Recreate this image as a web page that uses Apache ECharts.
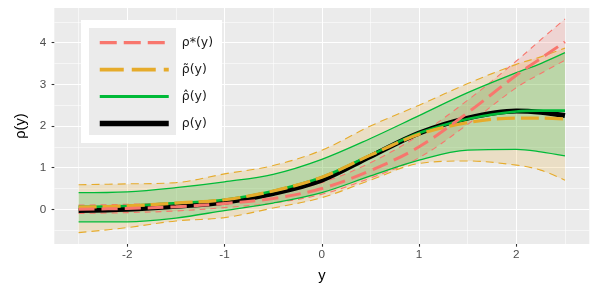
<!DOCTYPE html>
<html><head><meta charset="utf-8">
<script src="https://cdn.jsdelivr.net/npm/echarts@6/dist/echarts.min.js"></script>
<style>html,body{margin:0;padding:0;background:#fff}#c{width:598px;height:299px}</style>
</head><body><div id="c"></div>
<script>
// ---- data ----
const xs        = [-2.5, -2, -1.5, -1, -0.5, 0, 0.5, 1, 1.5, 2, 2.25, 2.5];
const rho       = [-0.03, 0.00, 0.07, 0.17, 0.38, 0.70, 1.27, 1.83, 2.19, 2.36, 2.33, 2.25];
const rhoHat    = [0.06, 0.08, 0.15, 0.23, 0.44, 0.77, 1.30, 1.83, 2.17, 2.35, 2.37, 2.37];
const rhoTilde  = [0.05, 0.08, 0.15, 0.23, 0.44, 0.77, 1.30, 1.80, 2.08, 2.19, 2.19, 2.17];
const rhoStar   = [0.00, 0.02, 0.06, 0.14, 0.26, 0.50, 0.93, 1.50, 2.32, 3.22, 3.62, 4.02];
const starLo    = [-0.10, -0.08, -0.04, 0.04, 0.15, 0.36, 0.75, 1.24, 2.04, 2.92, 3.26, 3.58];
const starHi    = [0.10, 0.12, 0.16, 0.24, 0.38, 0.64, 1.12, 1.78, 2.62, 3.56, 4.07, 4.57];
const tildeLo   = [-0.56, -0.44, -0.28, -0.20, 0.03, 0.28, 0.70, 1.10, 1.16, 1.06, 0.94, 0.70];
const tildeHi   = [0.59, 0.61, 0.64, 0.85, 1.05, 1.42, 2.00, 2.50, 3.02, 3.48, 3.66, 3.87];
const hatLo     = [-0.30, -0.30, -0.21, -0.03, 0.15, 0.40, 0.80, 1.18, 1.42, 1.44, 1.38, 1.28];
const hatHi     = [0.40, 0.42, 0.52, 0.66, 0.84, 1.20, 1.70, 2.25, 2.80, 3.28, 3.50, 3.76];
const xTicks    = [-2, -1, 0, 1, 2];
const xMinor    = [-2.5, -1.5, -0.5, 0.5, 1.5, 2.5];
const yTicks    = [0, 1, 2, 3, 4];
const yMinor    = [-0.5, 0.5, 1.5, 2.5, 3.5, 4.5];
const names     = {star: 'ρ*(y)', tilde: 'ρ\u0303(y)', hat: 'ρ\u0302(y)', rho: 'ρ(y)'};

// ---- styling ----
const PINK = '#F8766D', ORANGE = '#E6AB2B', GREEN = '#00BA38', BLACK = '#000000';
const FONT = 'Liberation Sans, Arial, sans-serif';
const SM = 0.35;
function pts(ys){ return xs.map((x,i)=>[x, ys[i]]); }
function ribbon(key, lo, hi, fill){
  return {
    name:key, type:'custom', silent:true, z:1, clip:true,
    data: pts(lo),
    renderItem: function(params, api){
      if (params.dataIndex !== 0) return null;
      const up = xs.map((x,i)=>api.coord([x, hi[i]]));
      const dn = xs.map((x,i)=>api.coord([x, lo[i]])).reverse();
      const P = [up[0]].concat(up, [up[up.length-1], dn[0]], dn, [dn[dn.length-1]]);
      return {type:'polygon', shape:{points:P, smooth:SM}, style:{fill:fill}};
    }
  };
}
function line(name, ys, color, width, type){
  return {name:name, type:'line', data:pts(ys), symbol:'none', showSymbol:false, smooth:SM, silent:true, z:2,
          lineStyle:{color:color, width:width, type:type}, itemStyle:{color:color}};
}
const chart = echarts.init(document.getElementById('c'), null, {renderer:'canvas'});
chart.setOption({
  animation:false,
  grid:{left:54.3, right:8.7, top:8, bottom:55, show:true, backgroundColor:'#EBEBEB', borderWidth:0},
  xAxis:[
    {type:'value', min:-2.75, max:2.75, axisLine:{show:false, onZero:false},
      axisTick:{show:true, length:2.7, lineStyle:{color:'#333333', width:1.1}, customValues:xTicks},
      axisLabel:{customValues:xTicks, color:'#4D4D4D', fontSize:11.7, margin:5, fontFamily:FONT},
      splitLine:{show:true, lineStyle:{color:'#FFFFFF', width:1.1}},
      name:'y', nameLocation:'middle', nameGap:24, nameTextStyle:{fontSize:14.7, color:'#000', fontFamily:FONT}},
    {type:'value', min:-2.75, max:2.75, axisLine:{show:false, onZero:false},
      axisTick:{show:false, customValues:xMinor}, axisLabel:{show:false, customValues:xMinor},
      splitLine:{show:true, lineStyle:{color:'#FFFFFF', width:0.55}}}
  ],
  yAxis:[
    {type:'value', min:-5/6, max:29/6, axisLine:{show:false, onZero:false},
      axisTick:{show:true, length:2.7, lineStyle:{color:'#333333', width:1.1}, customValues:yTicks},
      axisLabel:{customValues:yTicks, color:'#4D4D4D', fontSize:11.7, margin:8, fontFamily:FONT},
      splitLine:{show:true, lineStyle:{color:'#FFFFFF', width:1.1}},
      name:'ρ(y)', nameLocation:'middle', nameGap:26, nameTextStyle:{fontSize:14.7, color:'#000', fontFamily:FONT}},
    {type:'value', min:-5/6, max:29/6, axisLine:{show:false, onZero:false},
      axisTick:{show:false, customValues:yMinor}, axisLabel:{show:false, customValues:yMinor},
      splitLine:{show:true, lineStyle:{color:'#FFFFFF', width:0.55}}}
  ],
  graphic:{elements:[
    {type:'rect', shape:{x:81, y:20, width:141, height:123}, style:{fill:'#FFFFFF'}, z:3, silent:true},
    {type:'rect', shape:{x:89, y:28, width:87, height:107}, style:{fill:'#EBEBEB'}, z:3, silent:true}
  ]},
  legend:{
    orient:'vertical', left:97, top:32, itemWidth:69, itemHeight:26.75, itemGap:5.5, padding:0,
    selectedMode:false, z:5,
    itemStyle:{opacity:0},
    textStyle:{fontSize:12.5, color:'#1A1A1A', fontFamily:'DejaVu Sans, Liberation Sans, sans-serif', padding:[0,0,0,8]},
    data:[
      {name:names.star, lineStyle:{width:3.2, type:[17,7]}, itemStyle:{opacity:0}},
      {name:names.tilde, lineStyle:{width:3.6, type:[24,8]}, itemStyle:{opacity:0}},
      {name:names.hat, lineStyle:{width:3, type:'solid'}, itemStyle:{opacity:0}},
      {name:names.rho, lineStyle:{width:5.5, type:'solid'}, itemStyle:{opacity:0}}
    ]
  },
  series:[
    ribbon('starR', starLo, starHi, 'rgba(248,118,109,0.2)'),
    ribbon('tildeR', tildeLo, tildeHi, 'rgba(230,171,43,0.2)'),
    ribbon('hatR', hatLo, hatHi, 'rgba(0,186,56,0.2)'),
    line('starLo', starLo, PINK, 1.1, [6,5]),
    line('starHi', starHi, PINK, 1.1, [6,5]),
    line('tildeLo', tildeLo, ORANGE, 1.1, [8,5]),
    line('tildeHi', tildeHi, ORANGE, 1.1, [8,5]),
    line('hatLo', hatLo, GREEN, 1.3, 'solid'),
    line('hatHi', hatHi, GREEN, 1.3, 'solid'),
    line(names.rho, rho, BLACK, 5, 'solid'),
    line(names.hat, rhoHat, GREEN, 2.6, 'solid'),
    line(names.tilde, rhoTilde, ORANGE, 3.2, [18,6]),
    line(names.star, rhoStar, PINK, 3, [16,7])
  ]
});
</script></body></html>
